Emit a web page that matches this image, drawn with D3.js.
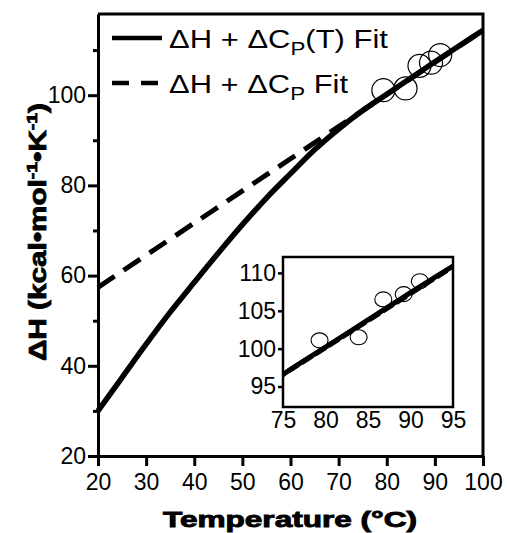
<!DOCTYPE html>
<html>
<head>
<meta charset="utf-8">
<script src="https://cdn.jsdelivr.net/npm/d3@7"></script>
<style>
  body { margin: 0; background: #fff; }
  text { font-family: "Liberation Sans", Arial, sans-serif; fill: #000; }
</style>
</head>
<body>
<div id="chart"></div>
<script>
// values
const tempFitT = [20, 25, 30, 35, 40, 45, 50, 55, 60, 65, 70, 75, 80, 85, 90, 95, 100];
const dhCpT    = [30, 37.4, 44.8, 51.9, 58.5, 65.0, 71.3, 77.2, 82.6, 87.9, 92.5, 96.6, 100.2, 103.8, 107.4, 110.9, 114.4];
const tempLin  = [20, 40, 60, 80, 100];
const dhCp     = [57.4, 71.65, 85.9, 100.15, 114.4];
const obsT     = [79.3, 83.9, 86.8, 89.2, 91.1];
const obsDH    = [101.1, 101.5, 106.5, 107.2, 108.9];

const xTicks = [20, 30, 40, 50, 60, 70, 80, 90, 100];
const yTicks = [20, 40, 60, 80, 100];
const yMinor = [30, 50, 70, 90, 110];
const insetXTicks = [75, 80, 85, 90, 95];
const insetYTicks = [95, 100, 105, 110];

const W = 507, H = 533;
const svg = d3.select("#chart").append("svg")
    .attr("width", W)
    .attr("height", H);

const fitLine = tempFitT.map((t, i) => ({ t: t, h: dhCpT[i] }));
const linLine = tempLin.map((t, i) => ({ t: t, h: dhCp[i] }));
const obs = obsT.map((t, i) => ({ t: t, h: obsDH[i] }));

// ----- main plot -----
const x = d3.scaleLinear().domain([20, 100]).range([98, 483]);
const y = d3.scaleLinear().domain([20, 118]).range([456, 14]);

const line = d3.line().x(d => x(d.t)).y(d => y(d.h)).curve(d3.curveCatmullRom);

svg.append("path")
    .datum(linLine)
    .attr("d", line)
    .attr("fill", "none")
    .attr("stroke", "#000")
    .attr("stroke-width", 5)
    .attr("stroke-dasharray", "20,11");

svg.append("path")
    .datum(fitLine)
    .attr("d", line)
    .attr("fill", "none")
    .attr("stroke", "#000")
    .attr("stroke-width", 5.5);

svg.selectAll(".dot")
    .data(obs)
    .enter().append("circle")
    .attr("class", "dot")
    .attr("cx", d => x(d.t))
    .attr("cy", d => y(d.h))
    .attr("r", 11.5)
    .attr("fill", "none")
    .attr("stroke", "#000")
    .attr("stroke-width", 1.2);

// frame (top, right)
svg.append("path")
    .attr("d", `M${x(20)},${y(118)}H${x(100)}V${y(20)}`)
    .attr("fill", "none")
    .attr("stroke", "#000")
    .attr("stroke-width", 3);

// axes
const xAxis = svg.append("g")
    .attr("transform", `translate(0,${y(20)})`)
    .call(d3.axisBottom(x).tickValues(xTicks).tickSizeInner(10).tickSizeOuter(0).tickPadding(8));

const yAxis = svg.append("g")
    .attr("transform", `translate(${x(20)},0)`)
    .call(d3.axisLeft(y).tickValues(yTicks).tickSizeInner(10).tickSizeOuter(0).tickPadding(2));

svg.append("g")
    .attr("transform", `translate(${x(20)},0)`)
    .call(d3.axisLeft(y).tickValues(yMinor).tickSize(5).tickFormat(""))
    .call(g => g.select(".domain").remove())
    .selectAll("line").attr("stroke-width", 3);

[xAxis, yAxis].forEach(g => {
    g.select(".domain").attr("stroke-width", 3);
    g.selectAll(".tick line").attr("stroke-width", 3);
    g.selectAll(".tick text")
        .style("font-family", "Liberation Sans, Arial, sans-serif")
        .style("font-size", "23px");
});

// axis titles
svg.append("text")
    .attr("x", 290)
    .attr("y", 527)
    .attr("text-anchor", "middle")
    .attr("textLength", 254)
    .attr("lengthAdjust", "spacingAndGlyphs")
    .style("font-size", "22px")
    .style("font-weight", "bold")
    .style("stroke", "#000")
    .style("stroke-width", 0.9)
    .text("Temperature (°C)");

const yTitle = svg.append("text")
    .attr("transform", "translate(46,232) rotate(-90)")
    .attr("text-anchor", "middle")
    .attr("textLength", 258)
    .attr("lengthAdjust", "spacingAndGlyphs")
    .style("font-size", "23px")
    .style("font-weight", "bold")
    .style("stroke", "#000")
    .style("stroke-width", 0.8);
yTitle.append("tspan").text("ΔH (kcal•mol");
yTitle.append("tspan").attr("dy", -9).style("font-size", "15px").text("-1");
yTitle.append("tspan").attr("dy", 9).text("•K");
yTitle.append("tspan").attr("dy", -9).style("font-size", "15px").text("-1");
yTitle.append("tspan").attr("dy", 9).text(")");

// legend
const legendItems = [
    { dash: null, main: "ΔH + ΔC", sub: "P", tail: "(T) Fit", len: 219 },
    { dash: "17,12", main: "ΔH + ΔC", sub: "P", tail: " Fit", len: 179 }
];
const legend = svg.selectAll(".legend")
    .data(legendItems)
    .enter().append("g")
    .attr("class", "legend")
    .attr("transform", (d, i) => `translate(0,${i * 45})`);

legend.append("line")
    .attr("x1", 112).attr("x2", 162)
    .attr("y1", 38).attr("y2", 38)
    .attr("stroke", "#000")
    .attr("stroke-width", 4.5)
    .attr("stroke-dasharray", d => d.dash);

const lt = legend.append("text")
    .attr("x", 169)
    .attr("y", 48)
    .attr("textLength", d => d.len)
    .attr("lengthAdjust", "spacingAndGlyphs")
    .style("font-size", "25px");
lt.append("tspan").text(d => d.main);
lt.append("tspan").attr("dy", 7).style("font-size", "18px").text(d => d.sub);
lt.append("tspan").attr("dy", -7).text(d => d.tail);

// ----- inset -----
const xi = d3.scaleLinear().domain([75, 95]).range([283, 453]);
const yi = d3.scaleLinear().domain([92.3, 112.1]).range([407, 257]);

svg.append("clipPath").attr("id", "insetClip")
  .append("rect")
    .attr("x", 283).attr("y", 257)
    .attr("width", 170).attr("height", 150);

const lineInset = d3.line().x(d => xi(d.t)).y(d => yi(d.h)).curve(d3.curveCatmullRom);
const inset = svg.append("g").attr("clip-path", "url(#insetClip)");

inset.append("path")
    .datum(linLine)
    .attr("d", lineInset)
    .attr("fill", "none")
    .attr("stroke", "#000")
    .attr("stroke-width", 5)
    .attr("stroke-dasharray", "12,4");

inset.append("path")
    .datum(fitLine)
    .attr("d", lineInset)
    .attr("fill", "none")
    .attr("stroke", "#000")
    .attr("stroke-width", 5);

svg.selectAll(".idot")
    .data(obs)
    .enter().append("ellipse")
    .attr("class", "idot")
    .attr("cx", d => xi(d.t))
    .attr("cy", d => yi(d.h))
    .attr("rx", 8.5)
    .attr("ry", 7.5)
    .attr("fill", "none")
    .attr("stroke", "#000")
    .attr("stroke-width", 1.1);

svg.append("rect")
    .attr("x", 283).attr("y", 257)
    .attr("width", 170).attr("height", 150)
    .attr("fill", "none")
    .attr("stroke", "#000")
    .attr("stroke-width", 2.5);

const xiAxis = svg.append("g")
    .attr("transform", "translate(0,407)")
    .call(d3.axisBottom(xi).tickValues(insetXTicks).tickSizeInner(0).tickSizeOuter(0).tickPadding(5));
const yiAxis = svg.append("g")
    .attr("transform", "translate(283,0)")
    .call(d3.axisLeft(yi).tickValues(insetYTicks).tickSizeInner(5).tickSizeOuter(0).tickPadding(2));

[xiAxis, yiAxis].forEach(g => {
    g.select(".domain").remove();
    g.selectAll(".tick line").attr("stroke-width", 2.5);
    g.selectAll(".tick text")
        .style("font-family", "Liberation Sans, Arial, sans-serif")
        .style("font-size", "23px");
});
</script>
</body>
</html>
